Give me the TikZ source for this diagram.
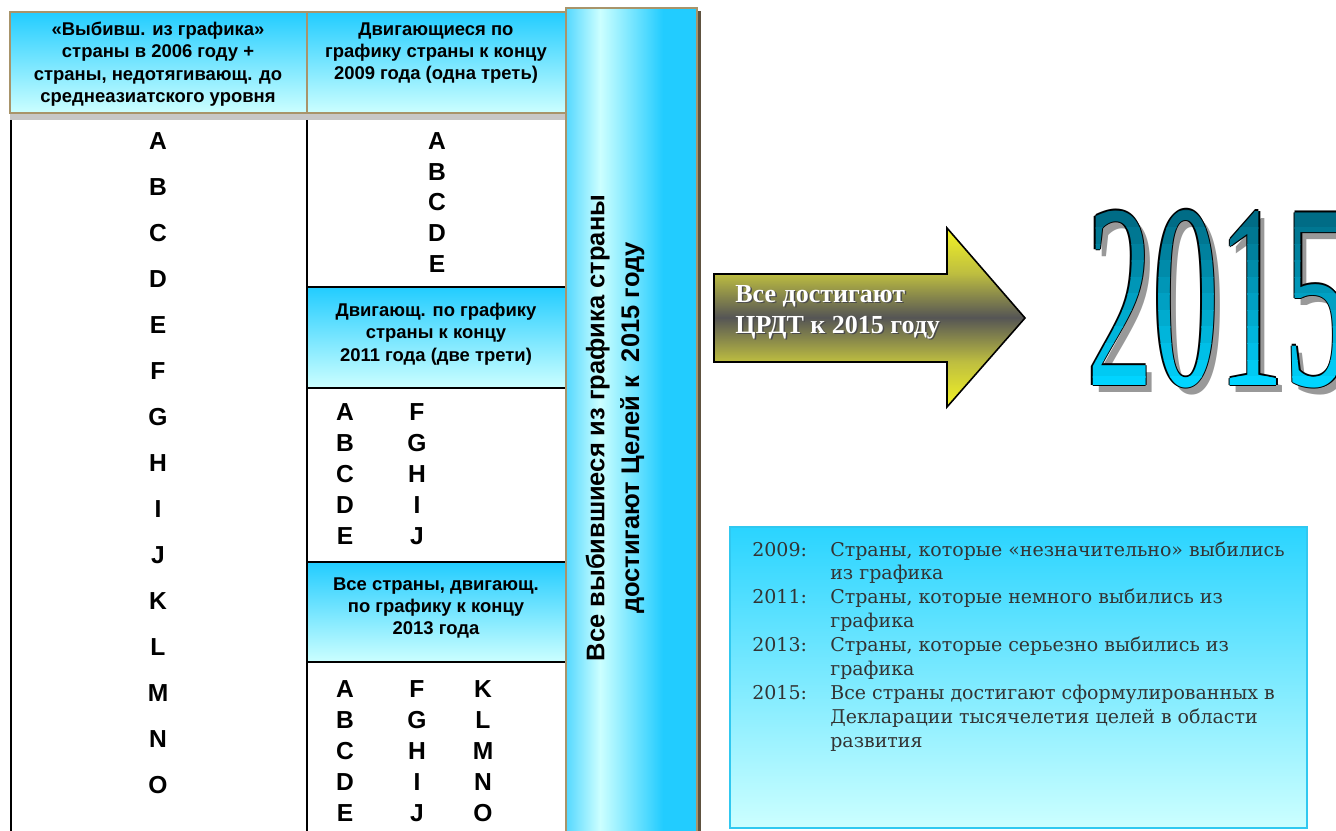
\documentclass[tikz,border=0pt]{standalone}
\usepackage{fontspec}
\setmainfont{Liberation Serif}
\setsansfont{Liberation Sans}
\newfontfamily\legendfont{DejaVu Serif}
\usepackage{xcolor}
\definecolor{cyan-top}{HTML}{22CCFF}
\definecolor{cyan-pale}{HTML}{CCFFFF}
\definecolor{bar-left}{HTML}{55D8FF}
\definecolor{frame-tan}{HTML}{A8946A}
\definecolor{frame-dark}{HTML}{5E5240}
\definecolor{arrow-yellow}{HTML}{F4F424}
\definecolor{arrow-olive}{HTML}{BEBE40}
\definecolor{arrow-grey}{HTML}{555555}
\definecolor{year-teal}{HTML}{00627A}
\definecolor{year-cyan}{HTML}{00D4FF}
\definecolor{legend-top}{HTML}{2AD4FF}
\definecolor{legend-border}{HTML}{30C8F0}
\definecolor{legend-text}{HTML}{333333}

\pgfdeclareverticalshading{arrowshade}{100bp}{color(0bp)=(arrow-yellow); color(25bp)=(arrow-yellow); color(37.6bp)=(arrow-olive); color(50bp)=(arrow-grey); color(62.4bp)=(arrow-olive); color(75bp)=(arrow-yellow); color(100bp)=(arrow-yellow)}
\pgfdeclarehorizontalshading{barshade}{100bp}{color(0bp)=(bar-left); color(25bp)=(bar-left); color(38bp)=(cyan-pale); color(62bp)=(cyan-top); color(100bp)=(cyan-top)}

\newcommand\hdrfont{\sffamily\bfseries\fontsize{10.5pt}{12.75pt}\selectfont}
\newcommand\letterfont{\sffamily\bfseries\fontsize{14pt}{14pt}\selectfont}
\newcommand\barfont{\sffamily\bfseries\fontsize{14.5pt}{19.8pt}\selectfont}
\newcommand\arrowfont{\rmfamily\bfseries\fontsize{14.8pt}{17.6pt}\selectfont}
\newcommand\bigyearfont{\rmfamily\fontsize{150pt}{150pt}\selectfont}

\tikzset{
    hdr/.style={font=\hdrfont, align=center, inner sep=0pt},
    letter/.style={font=\letterfont, inner sep=0pt},
    bigyear/.style={font=\bigyearfont, xscale=0.5, inner sep=0pt, anchor=base west},
}

\begin{document}
\begin{tikzpicture}[x=0.02cm, y=-0.02cm]

    \useasboundingbox (0, 0) rectangle (1336, 831);

    % Headers
    \shade[top color=cyan-top, bottom color=cyan-pale, draw=frame-tan, line width=1.7pt] (10, 12) rectangle (307, 113);
    \shade[top color=cyan-top, bottom color=cyan-pale, draw=frame-tan, line width=1.7pt] (307, 12) rectangle (566, 113);
    \fill[black!22] (10, 114) rectangle (566, 120);
    \node[hdr] (hdr-behind) at (158, 64) {«Выбивш. из графика»\\страны в 2006 году +\\страны, недотягивающ. до\\среднеазиатского уровня};
    \node[hdr] (hdr-2009) at (436, 53) {Двигающиеся по\\графику страны к концу\\2009 года (одна треть)};

    % Middle boxes
    \shade[top color=cyan-top, bottom color=cyan-pale] (307, 287) rectangle (566, 388);
    \shade[top color=cyan-top, bottom color=cyan-pale] (307, 562) rectangle (566, 662);
    \draw[line width=1.4pt] (307, 287) -- (566, 287) (307, 388) -- (566, 388);
    \draw[line width=1.4pt] (307, 562) -- (566, 562) (307, 662) -- (566, 662);
    \node[hdr] (hdr-2011) at (436, 334) {Двигающ. по графику\\страны к концу\\2011 года (две трети)};
    \node[hdr] (hdr-2013) at (436, 608) {Все страны, двигающ.\\по графику к концу\\2013 года};

    % Column lines
    \draw[line width=1.7pt] (11, 120) -- (11, 831);
    \draw[line width=1.7pt] (307, 120) -- (307, 831);

    % Letters
    \foreach \l [count=\i] in {A,B,C,D,E,F,G,H,I,J,K,L,M,N,O}
        \node[letter] (left-\l) at (158, 141 + 46*\i - 46) {\l};
    \foreach \l [count=\i] in {A,B,C,D,E}
        \node[letter] (mid-\l) at (437, 141 + 30.75*\i - 30.75) {\l};
    \foreach \a/\b [count=\i] in {A/F,B/G,C/H,D/I,E/J} {
        \node[letter] (two-\a) at (345, 412 + 31*\i - 31) {\a};
        \node[letter] (two-\b) at (417, 412 + 31*\i - 31) {\b};
    }
    \foreach \a/\b/\c [count=\i] in {A/F/K,B/G/L,C/H/M,D/I/N,E/J/O} {
        \node[letter] (three-\a) at (345, 689 + 31*\i - 31) {\a};
        \node[letter] (three-\b) at (417, 689 + 31*\i - 31) {\b};
        \node[letter] (three-\c) at (483, 689 + 31*\i - 31) {\c};
    }

    % Bar
    \fill[frame-dark] (570, 11) rectangle (701, 840);
    \shade[shading=barshade, draw=frame-tan, line width=1.2pt] (566, 8) rectangle (697, 840);
    \node[font=\barfont, align=center, rotate=90, inner sep=0pt] (bar-text) at (615, 428)
        {Все выбившиеся из графика страны\\достигают Целей к\ \ 2015 году};

    % Arrow
    \shade[shading=arrowshade, draw=black, line width=0.9pt] (714, 274) -- (947, 274) -- (947, 228)
                                                             -- (1025, 318) -- (947, 407)
                                                             -- (947, 362) -- (714, 362) -- cycle;
    \node[font=\arrowfont, align=left, anchor=west, inner sep=0pt, text=black!70] (arrow-shadow) at (736.5, 313.5)
        {Все достигают\\ЦРДТ к 2015 году};
    \node[font=\arrowfont, align=left, anchor=west, inner sep=0pt, text=white] (arrow-text) at (735, 312)
        {Все достигают\\ЦРДТ к 2015 году};

    % 2015
    \node[bigyear, text=black!40] (yr-shadow) at (1093, 393) {2015};
    \foreach \dx/\dy [count=\i] in {-1.4/0,1.4/0,0/-1.4,0/1.4}
        \node[bigyear, text=black] (yr-line-\i) at (1087 + \dx, 385 + \dy) {2015};
    \foreach \i in {0,...,11} {
        \pgfmathsetmacro\mix{100 - \i*100/11}
        \begin{scope}
            \clip (1070, 195 + 16.5*\i) rectangle (1340, 212 + 16.5*\i);
            \node[bigyear, text=year-teal!\mix!year-cyan] (yr-band-\i) at (1087, 385) {2015};
        \end{scope}
    }

    % Legend
    \shade[top color=legend-top, bottom color=cyan-pale, draw=legend-border, line width=1.1pt] (730, 527) rectangle (1307, 828);
    \node[anchor=north west, inner sep=0pt, text=legend-text,
          font=\legendfont\fontsize{10.8pt}{13.6pt}\selectfont] (legend) at (752, 539) {%
        \begin{tabular}{@{}p{1.56cm}@{}l@{}}
            2009: & Страны, которые «незначительно» выбились\\
                  & из графика\\
            2011: & Страны, которые немного выбились из\\
                  & графика\\
            2013: & Страны, которые серьезно выбились из\\
                  & графика\\
            2015: & Все страны достигают сформулированных в\\
                  & Декларации тысячелетия целей в области\\
                  & развития
        \end{tabular}};

\end{tikzpicture}
\end{document}
